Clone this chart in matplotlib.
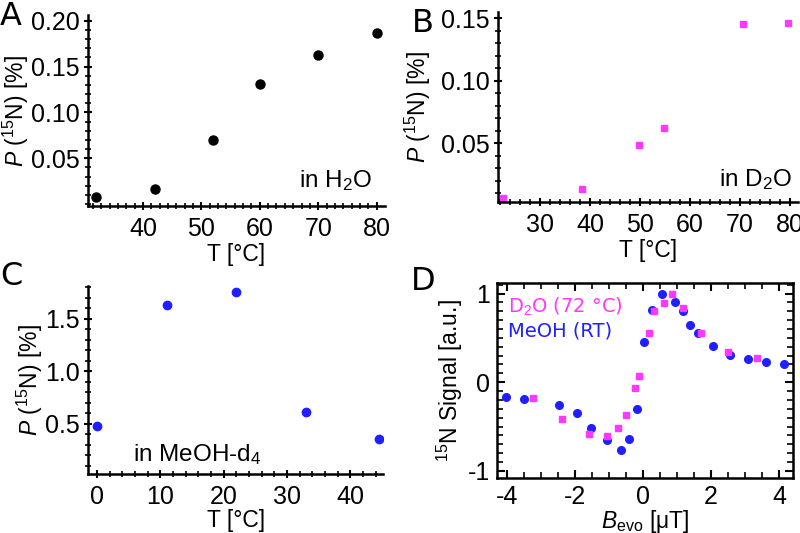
import numpy as np
import matplotlib
matplotlib.use("Agg")
import matplotlib.pyplot as plt
from matplotlib.ticker import MultipleLocator, AutoMinorLocator

plt.rcParams['font.family'] = ['Liberation Sans', 'DejaVu Sans']
plt.rcParams['mathtext.fontset'] = 'custom'
plt.rcParams['mathtext.rm'] = 'Liberation Sans'
plt.rcParams['mathtext.it'] = 'Liberation Sans:italic'

# dados
t_h2o = [32, 42, 52, 60, 70, 80]
p_h2o = [0.0076, 0.016, 0.0696, 0.131, 0.163, 0.187]

t_d2o = [22.6, 38.4, 49.8, 54.8, 70.6, 79.6]
p_d2o = [0.0064, 0.0136, 0.049, 0.0624, 0.1456, 0.146]

t_meoh = [0, 11, 22, 33, 44.5]
p_meoh = [0.476, 1.63, 1.75, 0.61, 0.36]

b_meoh = [-4.03, -3.5, -2.46, -1.93, -1.54, -1.07, -0.65, -0.40, -0.19, 0.04,
          0.27, 0.55, 0.94, 1.17, 1.38, 1.61, 2.04, 2.54, 3.07, 3.61, 4.13]
s_meoh = [-0.17, -0.19, -0.26, -0.35, -0.52, -0.65, -0.76, -0.64, -0.30, 0.45,
          0.81, 1.0, 0.90, 0.80, 0.65, 0.55, 0.41, 0.31, 0.26, 0.23, 0.21]

b_d2o = [-3.24, -2.39, -1.60, -1.05, -0.73, -0.50, -0.23, -0.11, 0.18, 0.32,
         0.60, 0.84, 1.16, 1.70, 2.49, 3.34]
s_d2o = [-0.18, -0.41, -0.58, -0.61, -0.52, -0.37, -0.06, 0.07, 0.56, 0.80,
         0.89, 1.0, 0.84, 0.55, 0.34, 0.27]

magenta = '#ff38ff'
azul = '#1f1fff'
ylabel_p = r'$P$ ($^{15}$N) [%]'
tam_tick = 18
tam_label = 16.5
tam_texto = 17.5

fig = plt.figure(figsize=(8, 5.33), dpi=100)
axA = fig.add_axes([0.11, 0.6135, 0.371, 0.358])
axB = fig.add_axes([0.6225, 0.621, 0.375, 0.3565])
axC = fig.add_axes([0.11, 0.1107, 0.369, 0.3527])
axD = fig.add_axes([0.621, 0.1032, 0.37, 0.366])


def estilo_aberto(ax, nx, ymin):
    for s in ['top', 'right']:
        ax.spines[s].set_visible(False)
    for s in ['left', 'bottom']:
        ax.spines[s].set_linewidth(1.8)
    ax.tick_params(which='major', direction='inout', length=6, width=1.5,
                   labelsize=tam_tick, pad=3)
    ax.tick_params(axis='x', which='major', pad=5)
    ax.tick_params(which='minor', direction='inout', length=4, width=1.2)
    ax.xaxis.set_minor_locator(AutoMinorLocator(nx))
    ax.yaxis.set_minor_locator(MultipleLocator(ymin))


# A
axA.plot(t_h2o, p_h2o, 'o', color='black', ms=6.5)
axA.set_xlim(30.6, 81.4)
axA.set_ylim(-0.002, 0.206)
axA.set_xticks([40, 50, 60, 70, 80])
axA.set_yticks([0.05, 0.10, 0.15, 0.20])
axA.set_yticklabels(['0.05', '0.10', '0.15', '0.20'])
estilo_aberto(axA, 7, 0.01)
axA.set_xlabel('T [°C]', fontsize=tam_label, labelpad=1)
axA.set_ylabel(ylabel_p, fontsize=tam_label, labelpad=0)
axA.text(0.956, 0.136, 'in H$_2$O', transform=axA.transAxes, ha='right',
         va='center', fontsize=tam_texto)

# B
axB.plot(t_d2o, p_d2o, 's', color=magenta, ms=5)
axB.set_xlim(21.6, 81.6)
axB.set_ylim(0.003, 0.155)
axB.set_xticks([30, 40, 50, 60, 70, 80])
axB.set_yticks([0.05, 0.10, 0.15])
axB.set_yticklabels(['0.05', '0.10', '0.15'])
estilo_aberto(axB, 5, 0.01)
axB.set_xlabel('T [°C]', fontsize=tam_label, labelpad=1)
axB.set_ylabel(ylabel_p, fontsize=tam_label, labelpad=6)
axB.text(0.98, 0.116, 'in D$_2$O', transform=axB.transAxes, ha='right',
         va='center', fontsize=tam_texto)

# C
axC.plot(t_meoh, p_meoh, 'o', color=azul, ms=6)
axC.set_xlim(-1.4, 45.2)
axC.set_ylim(0.024, 1.81)
axC.set_xticks([0, 10, 20, 30, 40])
axC.set_yticks([0.5, 1.0, 1.5])
estilo_aberto(axC, 5, 0.1)
axC.set_xlabel('T [°C]', fontsize=tam_label, labelpad=0)
axC.set_ylabel(ylabel_p, fontsize=tam_label, labelpad=0)
axC.text(0.153, 0.106, 'in MeOH-d$_4$', transform=axC.transAxes, ha='left',
         va='center', fontsize=tam_texto)

# D
axD.plot(b_meoh, s_meoh, 'o', color=azul, ms=5.5)
axD.plot(b_d2o, s_d2o, 's', color=magenta, ms=4.8)
axD.set_xlim(-4.3, 4.4)
axD.set_ylim(-1.08, 1.12)
axD.set_xticks([-4, -2, 0, 2, 4])
axD.set_xticklabels(['-4', '-2', '0', '2', '4'])
axD.set_yticks([-1, 0, 1])
axD.set_yticklabels(['-1', '0', '1'])
for s in axD.spines.values():
    s.set_linewidth(1.8)
axD.tick_params(which='major', direction='in', length=6, width=1.5,
                labelsize=tam_tick, top=True, right=True, pad=5)
axD.tick_params(which='minor', direction='in', length=4, width=1.2,
                top=True, right=True)
axD.xaxis.set_minor_locator(MultipleLocator(0.5))
axD.yaxis.set_minor_locator(MultipleLocator(0.1))
axD.set_xlabel(r'$B_\mathrm{evo}$ [μT]', fontsize=tam_label, labelpad=-1)
axD.set_ylabel(r'$^{15}$N Signal [a.u.]', fontsize=tam_label, labelpad=2)
axD.text(0.037, 0.882, 'D$_2$O (72 °C)', transform=axD.transAxes,
         color=magenta, fontsize=14, va='center', family='DejaVu Sans')
axD.text(0.037, 0.754, 'MeOH (RT)', transform=axD.transAxes,
         color=azul, fontsize=14, va='center', family='DejaVu Sans')

# letras dos paineis
for letra, x, y in [('A', 0.0, 0.998), ('B', 0.515, 0.985),
                    ('C', 0.0, 0.51), ('D', 0.514, 0.5)]:
    fig.text(x, y, letra, fontsize=23, va='top', ha='left',
             family='DejaVu Sans')

fig.savefig('out.png', dpi=100)
